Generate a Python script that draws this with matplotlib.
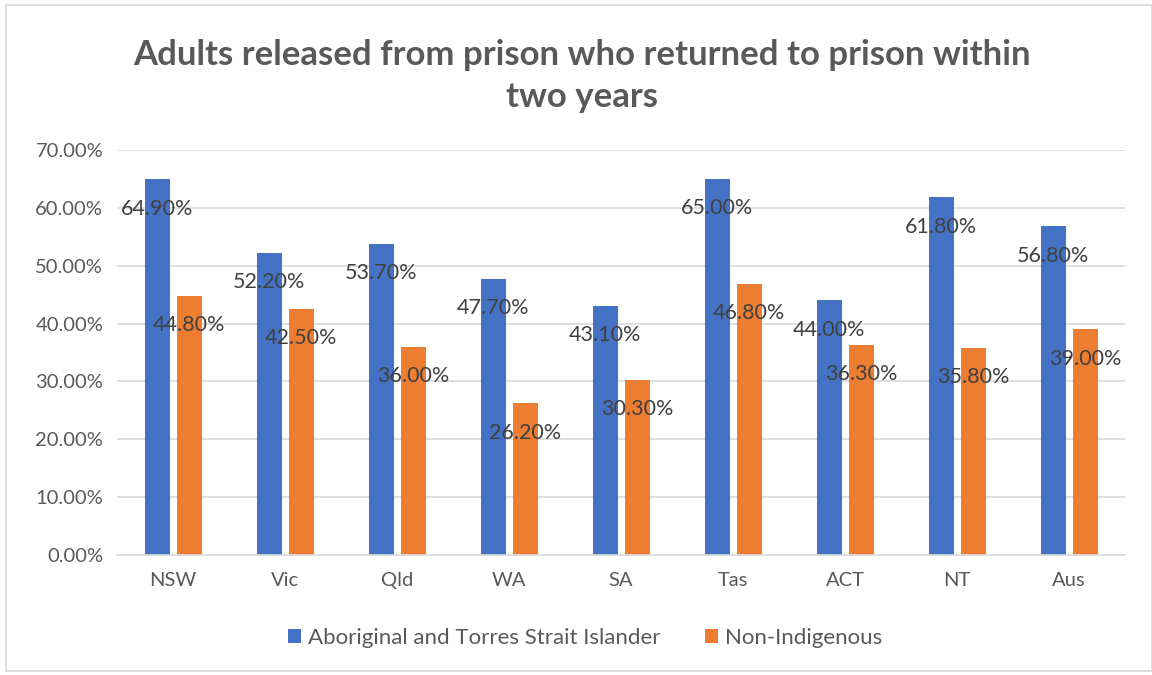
import numpy as np
import matplotlib.pyplot as plt
from matplotlib.patches import Rectangle
from matplotlib.ticker import FuncFormatter

plt.rcParams['font.family'] = ['Lato', 'DejaVu Sans']

# adatok
kategoriak = ["NSW", "Vic", "Qld", "WA", "SA", "Tas", "ACT", "NT", "Aus"]
bennszulott = [64.9, 52.2, 53.7, 47.7, 43.1, 65.0, 44.0, 61.8, 56.8]
nem_bennszulott = [44.8, 42.5, 36.0, 26.2, 30.3, 46.8, 36.3, 35.8, 39.0]
sorozatok = ["Aboriginal and Torres Strait Islander", "Non-Indigenous"]
szinek = ["#4472c4", "#ed7d31"]

fig = plt.figure(figsize=(11.52, 6.75), dpi=100)
ax = fig.add_axes([0.1016, 0.1778, 0.875, 0.60])

x = np.arange(len(kategoriak))
w = 0.223
off = 0.143
b1 = ax.bar(x - off, bennszulott, w, color=szinek[0], label=sorozatok[0])
b2 = ax.bar(x + off, nem_bennszulott, w, color=szinek[1], label=sorozatok[1])

for bars in (b1, b2):
    for b in bars:
        ax.annotate(f"{b.get_height():.2f}%", (b.get_x() + b.get_width() / 2, b.get_height()),
                    xytext=(0, -21), textcoords="offset points", ha="center", va="center",
                    fontsize=15.5, color="#404040")

ax.set_xlim(-0.5, len(kategoriak) - 0.5)
ax.set_ylim(0, 70)
ax.set_yticks(range(0, 71, 10))
ax.yaxis.set_major_formatter(FuncFormatter(lambda v, p: f"{v:.2f}%"))
ax.set_xticks(x)
ax.set_xticklabels(kategoriak)
ax.tick_params(axis="both", length=0, labelsize=14.5, labelcolor="#595959")
ax.tick_params(axis="x", pad=12)
ax.tick_params(axis="y", pad=10)
ax.grid(axis="y", color="#d9d9d9", linewidth=1.2)
ax.set_axisbelow(True)
for s in ["top", "right", "left"]:
    ax.spines[s].set_visible(False)
ax.spines["bottom"].set_color("#d9d9d9")
ax.spines["bottom"].set_linewidth(1.2)

fig.text(0.505, 0.888, "Adults released from prison who returned to prison within\ntwo years",
         ha="center", va="center", fontsize=25, fontweight="bold", color="#595959",
         linespacing=1.38)

fig.legend(loc="center", bbox_to_anchor=(0.508, 0.055), ncol=2, frameon=False,
           fontsize=16, labelcolor="#595959", handlelength=0.6, handleheight=0.6,
           handletextpad=0.3, columnspacing=2.0)

fig.patches.append(Rectangle((0.005, 0.006), 0.995, 0.987, transform=fig.transFigure,
                             fill=False, edgecolor="#d9d9d9", linewidth=1.2))

plt.savefig("out.png", dpi=100)
